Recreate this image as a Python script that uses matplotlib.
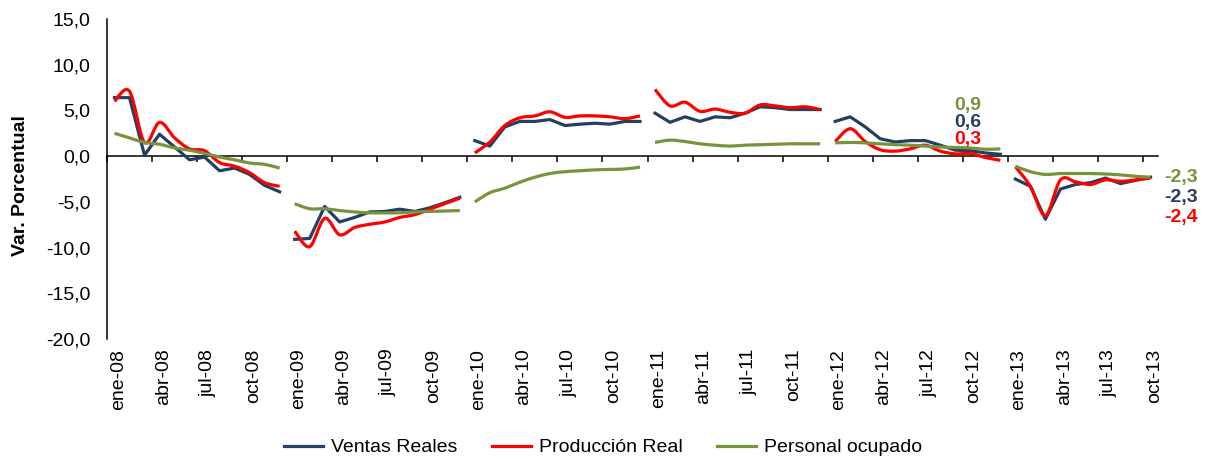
import matplotlib.pyplot as plt
import numpy as np
from matplotlib.path import Path
from matplotlib.patches import PathPatch
from matplotlib.lines import Line2D

plt.rcParams['font.family'] = ['Liberation Sans', 'DejaVu Sans']

meses = ['ene', 'feb', 'mar', 'abr', 'may', 'jun', 'jul', 'ago', 'sep', 'oct', 'nov', 'dic']
anios = ['08', '09', '10', '11', '12', '13']
etiquetas = [f'{m}-{a}' for a in anios for m in meses][:70]

# variacion porcentual mensual, un tramo por anio
ventas = [6.4, 6.4, 0.1, 2.4, 1.0, -0.4, -0.1, -1.6, -1.3, -2.0, -3.2, -3.9,
          -9.1, -9.0, -5.5, -7.2, -6.7, -6.1, -6.05, -5.8, -6.05, -5.65, -5.1, -4.5,
          1.7, 1.1, 3.2, 3.8, 3.8, 4.0, 3.35, 3.5, 3.6, 3.5, 3.8, 3.8,
          4.7, 3.7, 4.3, 3.8, 4.3, 4.2, 4.7, 5.4, 5.3, 5.1, 5.1, 5.1,
          3.8, 4.3, 3.2, 1.9, 1.55, 1.7, 1.7, 1.2, 0.65, 0.6, 0.35, 0.2,
          -2.5, -3.3, -6.9, -3.6, -3.1, -2.9, -2.4, -3.0, -2.65, -2.3]
produccion = [6.0, 7.1, 1.5, 3.7, 2.0, 0.8, 0.6, -0.7, -1.1, -1.8, -2.9, -3.3,
              -8.2, -9.9, -6.8, -8.6, -7.8, -7.45, -7.2, -6.7, -6.4, -5.8, -5.2, -4.6,
              0.35, 1.55, 3.35, 4.2, 4.4, 4.85, 4.25, 4.4, 4.4, 4.3, 4.1, 4.4,
              7.3, 5.5, 5.9, 4.9, 5.15, 4.8, 4.7, 5.6, 5.5, 5.3, 5.4, 5.1,
              1.6, 3.0, 1.6, 0.7, 0.55, 0.8, 1.2, 0.55, 0.25, 0.3, -0.15, -0.45,
              -1.15, -3.3, -6.5, -2.6, -2.8, -3.1, -2.6, -2.75, -2.6, -2.4]
personal = [2.5, 2.0, 1.5, 1.3, 0.9, 0.65, 0.3, -0.1, -0.4, -0.75, -0.9, -1.3,
            -5.2, -5.75, -5.75, -5.95, -6.1, -6.2, -6.2, -6.2, -6.1, -6.05, -6.0, -5.95,
            -5.0, -4.0, -3.5, -2.85, -2.3, -1.9, -1.7, -1.6, -1.5, -1.45, -1.4, -1.2,
            1.5, 1.75, 1.6, 1.35, 1.2, 1.1, 1.2, 1.25, 1.3, 1.35, 1.35, 1.35,
            1.45, 1.5, 1.45, 1.35, 1.25, 1.2, 1.1, 1.0, 0.95, 0.9, 0.75, 0.8,
            -1.1, -1.7, -2.0, -1.9, -1.9, -1.9, -1.95, -2.05, -2.2, -2.3]

c_ventas = '#243F60'
c_prod = '#FF0000'
c_pers = '#77933C'


def curva(x, y):
    # curva suavizada tipo Excel (Bezier por tramos)
    pts = np.column_stack([x, y])
    n = len(pts)
    verts = [pts[0]]
    codes = [Path.MOVETO]
    for i in range(n - 1):
        p0 = pts[max(i - 1, 0)]
        p1 = pts[i]
        p2 = pts[i + 1]
        p3 = pts[min(i + 2, n - 1)]
        verts += [p1 + (p2 - p0) / 6, p2 - (p3 - p1) / 6, p2]
        codes += [Path.CURVE4] * 3
    return Path(verts, codes)


def fmt(v):
    return f'{v:.1f}'.replace('.', ',')


fig = plt.figure(figsize=(12.06, 4.59), dpi=100)
ax = fig.add_axes([0.0887, 0.2614, 0.9602 - 0.0887, 0.9586 - 0.2614])

x = np.arange(len(etiquetas))
for s in range(0, len(etiquetas), 12):
    xs = x[s:s + 12]
    ax.plot(xs, ventas[s:s + 12], color=c_ventas, lw=2.3, solid_joinstyle='round', zorder=3)
    for serie, col, z in [(produccion, c_prod, 4), (personal, c_pers, 5)]:
        ax.add_patch(PathPatch(curva(xs, serie[s:s + 12]), fill=False, edgecolor=col,
                               lw=2.3, joinstyle='round', zorder=z))

ax.set_xlim(-0.5, len(etiquetas) - 0.5)
ax.set_ylim(-20, 15)
ax.set_yticks(np.arange(-20, 16, 5))
ax.set_yticklabels([fmt(v) for v in np.arange(-20, 16, 5)])
ax.tick_params(axis='y', length=0, pad=12, labelsize=14)

ax.spines['top'].set_visible(False)
ax.spines['right'].set_visible(False)
ax.spines['left'].set_linewidth(1.1)
ax.spines['bottom'].set_position(('data', 0))
ax.spines['bottom'].set_linewidth(1.1)
ax.set_xticks(np.arange(-0.5, len(etiquetas) - 1, 3))
ax.tick_params(axis='x', direction='out', length=4, width=1.1, labelbottom=False)

sec = ax.secondary_xaxis('bottom')
sec.set_xticks(x[::3] + 0.25)
sec.set_xticklabels(etiquetas[::3], rotation=90, fontsize=14)
sec.tick_params(length=0, pad=7)
sec.spines['bottom'].set_visible(False)

fig.text(21 / 1206, 1 - 186 / 459, 'Var. Porcentual', rotation=90, ha='center',
         va='center', fontsize=14, fontweight='bold')

# valores destacados: oct-12 y oct-13
i12 = etiquetas.index('oct-12')
for serie, col, yy in [(personal, c_pers, 5.5), (ventas, c_ventas, 3.7), (produccion, c_prod, 1.85)]:
    ax.text(56.8, yy, fmt(serie[i12]), color=col, fontsize=14, fontweight='bold',
            ha='center', va='center', clip_on=False)
for serie, col, yy in [(personal, c_pers, -2.3), (ventas, c_ventas, -4.5), (produccion, c_prod, -6.7)]:
    ax.text(71.05, yy, fmt(serie[-1]), color=col, fontsize=14, fontweight='bold',
            ha='center', va='center', clip_on=False)

handles = [Line2D([], [], color=c_ventas, lw=2.3),
           Line2D([], [], color=c_prod, lw=2.3),
           Line2D([], [], color=c_pers, lw=2.3)]
fig.legend(handles, ['Ventas Reales', 'Producción Real', 'Personal ocupado'],
           loc='center', bbox_to_anchor=(0.5, 0.025), ncol=3, frameon=False,
           fontsize=14, handlelength=2.0, handletextpad=0.4, columnspacing=1.8)

fig.savefig('out.png', dpi=100)
